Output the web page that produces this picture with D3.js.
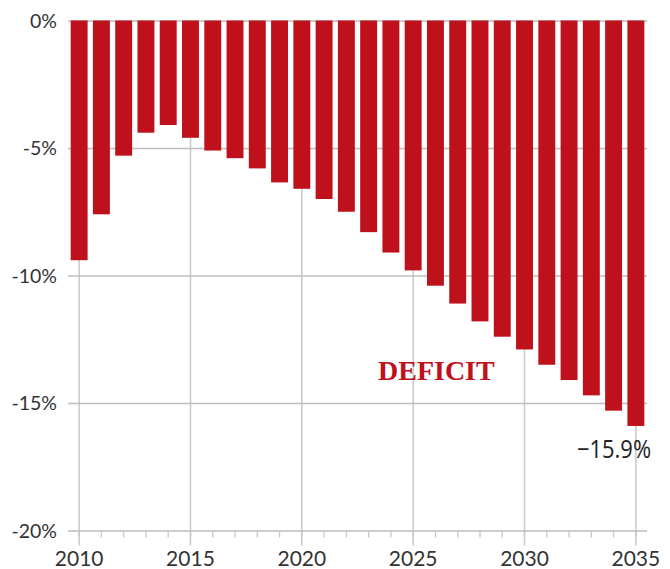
<!DOCTYPE html>
<html>
<head>
<meta charset="utf-8">
<script src="https://cdn.jsdelivr.net/npm/d3@7"></script>
<style>
  html, body { margin: 0; padding: 0; background: #fff; }
  svg { display: block; }
  .tick text { font-family: Lato, "Open Sans", sans-serif; font-weight: 400; fill: #333; }
</style>
</head>
<body>
<svg id="chart" width="670" height="569"></svg>
<script>
// Annual balance as a share of GDP (%), 2010–2035
const years = d3.range(2010, 2036);
const balance = [
  -9.4, -7.6, -5.3, -4.4, -4.1, -4.6, -5.1, -5.4, -5.8, -6.35,
  -6.6, -7.0, -7.5, -8.3, -9.1, -9.8, -10.4, -11.1, -11.8, -12.4,
  -12.9, -13.5, -14.1, -14.7, -15.3, -15.9
];
const yTicks = [0, -5, -10, -15, -20];
const yTickLabels = ["0%", "-5%", "-10%", "-15%", "-20%"];
const xMajorTicks = [2010, 2015, 2020, 2025, 2030, 2035];
const seriesLabel = "DEFICIT";
const endLabel = "\u221215.9%";

const svg = d3.select("#chart");
const plotLeft = 68, plotRight = 647, plotTop = 20.5, plotBottom = 530.5;

const x = d3.scaleBand().domain(years).range([plotLeft, plotRight])
  .paddingInner(0.24).paddingOuter(0.12);
const y = d3.scaleLinear().domain([0, -20]).range([plotTop, plotBottom]);
const cx = yr => x(yr) + x.bandwidth() / 2;

// vertical gridlines at major years, reaching below the axis
svg.append("g")
  .selectAll("line")
  .data(xMajorTicks)
  .join("line")
  .attr("x1", d => cx(d)).attr("x2", d => cx(d))
  .attr("y1", y(0)).attr("y2", plotBottom + 15)
  .attr("stroke", "#c8c8c8").attr("stroke-width", 1.5);

// y axis: labels plus horizontal gridlines
const yAxis = svg.append("g")
  .attr("transform", `translate(${plotLeft},0)`)
  .call(d3.axisLeft(y)
    .tickValues(yTicks)
    .tickFormat((d, i) => yTickLabels[i])
    .tickSize(-(plotRight - plotLeft))
    .tickPadding(11));
yAxis.select(".domain").remove();
yAxis.selectAll(".tick line").attr("stroke", "#bdbdbd").attr("stroke-width", 1.3);
yAxis.selectAll(".tick text").style("font-size", "19.5px").attr("dy", "0.35em");

// x axis: yearly minor ticks, labels at every fifth year
const xAxis = svg.append("g")
  .attr("transform", `translate(0,${plotBottom})`)
  .call(d3.axisBottom(x)
    .tickValues(years)
    .tickFormat(d => xMajorTicks.includes(d) ? d : "")
    .tickSize(7));
xAxis.select(".domain").remove();
xAxis.selectAll(".tick line").attr("stroke", "#c8c8c8").attr("stroke-width", 1.3);
xAxis.selectAll(".tick text")
  .style("font-size", "21px")
  .attr("y", 35.5)
  .attr("dy", 0);

// bars
svg.append("g")
  .selectAll("rect")
  .data(years.map((yr, i) => ({ yr, v: balance[i] })))
  .join("rect")
  .attr("x", d => x(d.yr))
  .attr("width", x.bandwidth())
  .attr("y", y(0))
  .attr("height", d => y(d.v) - y(0))
  .attr("fill", "#be111b");

// series label
svg.append("text")
  .attr("x", 378).attr("y", 380)
  .attr("font-family", "'Liberation Serif', 'DejaVu Serif', serif")
  .attr("font-weight", "bold")
  .attr("font-size", 28)
  .attr("fill", "#be111b")
  .text(seriesLabel);

// value label for the final year
svg.append("text")
  .attr("x", 651).attr("y", y(balance[balance.length - 1]) + 32)
  .attr("text-anchor", "end")
  .attr("font-family", "'Open Sans', sans-serif")
  .attr("font-size", 25)
  .attr("textLength", 74)
  .attr("lengthAdjust", "spacingAndGlyphs")
  .attr("fill", "#222")
  .text(endLabel);
</script>
</body>
</html>
